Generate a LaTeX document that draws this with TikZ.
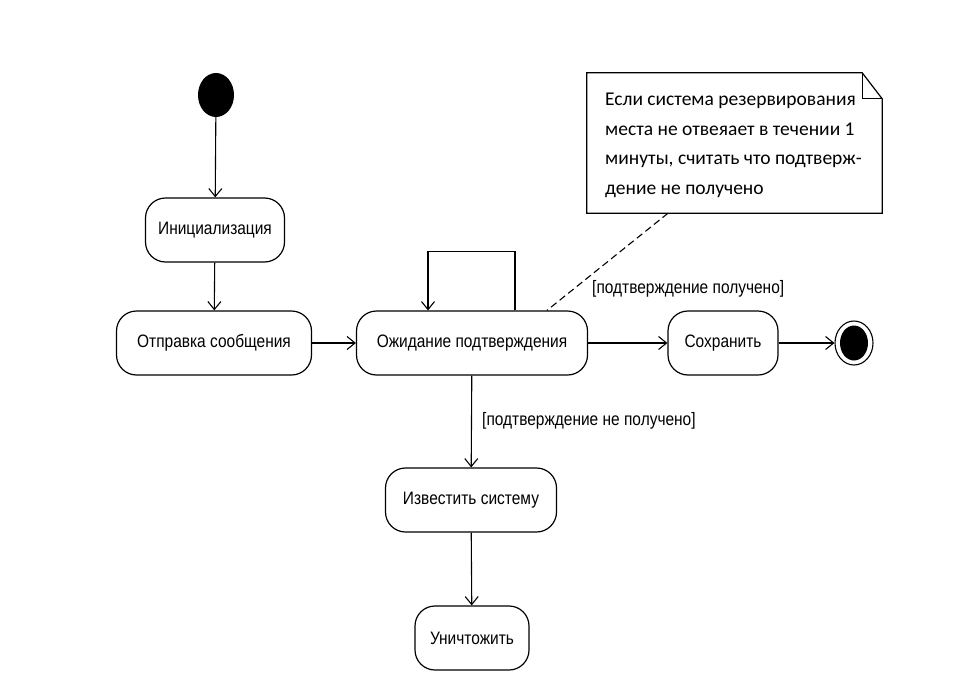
\documentclass[tikz,border=0pt]{standalone}
\usepackage{fontspec}
\setmainfont{Liberation Sans}[FakeStretch=0.86]
\newfontfamily\notefont{Carlito}
\usetikzlibrary{arrows.meta,shapes.geometric}
\begin{document}
\begin{tikzpicture}[x=1pt,y=-1pt,
  every node/.style={font=\fontsize{18}{20}\selectfont},
  state/.style={draw,line width=1.2pt,rounded corners=20pt,minimum height=64pt,inner sep=0pt,align=center},
  flow/.style={line width=1.1pt,-{Straight Barb[length=8pt,width=13pt,line width=1.1pt]}},
  guard/.style={anchor=west,inner sep=0pt},
  notebox/.style={minimum width=295pt,minimum height=140pt,inner sep=0pt},
  anchorline/.style={line width=1.1pt,dashed,dash pattern=on 7pt off 4pt}]
\useasboundingbox[fill=white] (0,0) rectangle (972,688);

% initial and final states
\node[ellipse,fill=black,minimum width=36pt,minimum height=44pt,inner sep=0pt] (start) at (216,95) {};
\node[ellipse,draw,line width=1.1pt,minimum width=38pt,minimum height=44pt,inner sep=0pt] (final) at (854,343) {};
\node[ellipse,fill=black,minimum width=28pt,minimum height=35pt,inner sep=0pt] (finalin) at (854,343) {};

% activity states
\node[state,minimum width=139pt] (init) at (215,230) {Инициализация};
\node[state,minimum width=195pt] (send) at (214,343) {Отправка сообщения};
\node[state,minimum width=231pt] (wait) at (472,343) {Ожидание подтверждения};
\node[state,minimum width=110pt] (save) at (723,343) {Сохранить};
\node[state,minimum width=171pt] (notify) at (471,500) {Известить систему};
\node[state,minimum width=114pt] (destroy) at (472,638) {Уничтожить};

% note
\node[notebox] (note) at (734.5,143) {};
\draw[line width=1.2pt] (note.north west) -- ([xshift=-20pt]note.north east) -- ([yshift=-26pt]note.north east) -- (note.south east) -- (note.south west) -- cycle;
\draw[line width=1pt] ([xshift=-20pt]note.north east) -- ([xshift=-20pt,yshift=-26pt]note.north east) -- ([yshift=-26pt]note.north east);
\node[anchor=north west,inner sep=0pt,align=left,font=\notefont\fontsize{19.5}{29.5}\selectfont] (notetext) at (605,93)
  {Если система резервирования\\места не отвеяает в течении 1\\минуты, считать что подтверж-\\дение не получено};

% connectors
\draw[flow] (start) -- (init);
\draw[flow] (init) -- (send);
\draw[flow] (send) -- (wait);
\draw[flow] (wait) -- (save);
\draw[flow] (save) -- (final);
\draw[flow] (wait) -- (notify);
\draw[flow] (notify) -- (destroy);
\coordinate (loopA) at ([xshift=43pt]wait.north);
\coordinate (loopB) at ([xshift=-44pt]wait.north);
\draw[flow] (loopA) -- ++(0,-59) -| (loopB);
\draw[anchorline] ([xshift=-66.5pt]note.south) -- ([xshift=75pt]wait.north);

% guards
\node[guard] (g1) at (592,289) {[подтверждение получено]};
\node[guard] (g2) at (482,421) {[подтверждение не получено]};
\end{tikzpicture}
\end{document}
